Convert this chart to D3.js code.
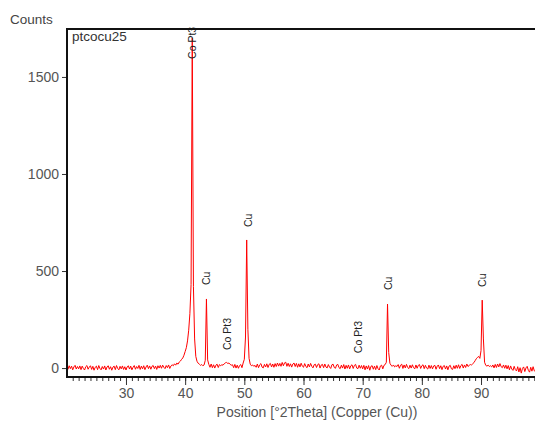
<!DOCTYPE html>
<html><head><meta charset="utf-8">
<script src="https://cdn.jsdelivr.net/npm/d3@7"></script>
<style>
body{margin:0;background:#fff;}
svg{display:block;}
text{font-family:"Liberation Sans",Arial,sans-serif;}
</style></head>
<body><svg id="chart" width="535" height="421"></svg>
<script>
// ---- data ----
const sampleName = "ptcocu25";
const yTitle = "Counts";
const xTitle = "Position [°2Theta] (Copper (Cu))";
const thetaStart = 20.0;
const thetaStep = 0.2;
const counts = [
  9, -6, 12, -3, 10, -9, 6, 14, -5, 8,
  -4, 11, -8, 10, -2, -10, 7, 13, -6, 5,
  12, -7, 9, -11, 4, 10, -8, 13, -2, -9,
  8, -5, 11, -10, 6, 12, -6, 7, -11, 5,
  10, -8, 13, -2, -9, 9, -4, 11, -7, 7,
  -10, 6, 12, -5, 10, -9, 4, 13, -6, 8,
  -2, 14, -7, 10, -4, 12, -8, 6, 15, -3,
  11, -6, 9, 13, -3, 10, -7, 12, 0, 14,
  -1, 15, 4, -3, 13, 2, 16, -2, 11, 17,
  12, 22, 15, 26, 20, 31, 36, 45, 52, 66,
  85, 105, 140, 195, 280, 430, 1700, 420, 150, 60,
  35, 25, 20, 14, 18, 12, 16, 40, 356, 42,
  19, 4, 21, 2, 17, 0, 15, 20, 3, 18,
  12, 17, 15, 22, 27, 29, 24, 26, 19, 15,
  17, 2, 19, 0, 15, -1, 13, 18, 2, 26,
  45, 160, 660, 200, 50, 20, 12, 16, 9, 14,
  4, 21, 2, 17, 23, 5, 1, 19, 6, 22,
  3, 19, 24, 6, 21, 4, 23, 8, 26, 10,
  24, 9, 29, 12, 27, 30, 9, 25, 8, 22,
  5, 21, 26, 8, 24, 4, 22, 6, 25, 10,
  4, 23, 8, 2, 21, 6, 24, 9, 1, 17,
  20, 3, 18, 22, 0, 16, 19, 2, 21, 5,
  1, 18, 5, -2, 17, 20, 3, -1, 16, 19,
  2, -3, 15, 0, 18, -5, 14, -1, 16, -4,
  12, 17, -2, 14, 19, 0, -3, 15, -1, 13,
  -4, 14, -9, 11, -5, 13, -11, 9, 12, -6,
  10, -8, 13, -3, -10, 11, 15, -4, 14, 18,
  30, 330, 80, 25, 14, 9, 16, 6, 12, 8,
  18, -1, 15, 20, -2, 16, 1, 19, 3, -3,
  15, 0, 17, 2, -4, 16, -1, 14, 18, -2,
  12, 17, -3, 14, 0, -5, 15, -2, 13, -4,
  11, 14, -6, 10, 16, -3, 12, -8, 9, 13,
  -5, 11, -9, 10, 14, -4, -7, 12, -3, 15,
  -1, 17, -2, 13, 19, 0, 16, 3, 21, 8,
  14, 18, 16, 22, 28, 38, 48, 55, 60, 50,
  90, 350, 150, 30, 14, 10, 15, 8, 12, 6,
  16, 1, 19, 3, 21, 6, 23, 7, 2, 16,
  -1, 15, -4, 13, -9, 11, -5, -12, 9, -8,
  -15, 7, -20, 2, -26, -2, 6, -18, 1, 9,
  -12, -21, 4, -16, 7, -14, -19, 3, -15, 1
];
const peakLabelTheta = [41.2, 43.6, 47.2, 50.6, 69.2, 74.4, 90.2];
const peakLabelText  = ["Co Pt3", "Cu", "Co Pt3", "Cu", "Co Pt3", "Cu", "Cu"];
const peakLabelCount = [1593, 428, 93, 727, 77, 402, 418];
const yTicks = [0, 500, 1000, 1500];
const xMajorTicks = [30, 40, 50, 60, 70, 80, 90];

// ---- layout ----
const svg = d3.select("#chart");
const plotLeft = 67, plotTop = 29, plotBottom = 377;
const x = d3.scaleLinear().domain([20, 100]).range([66.8, 540.2]);
const y = d3.scaleLinear().domain([-46, 1747]).range([plotBottom, plotTop]);

const pts = counts.map((c, i) => ({t: thetaStart + i * thetaStep, c}));

svg.append("clipPath").attr("id", "clip").append("rect")
  .attr("x", plotLeft).attr("y", plotTop).attr("width", 535 - plotLeft).attr("height", plotBottom - plotTop);

svg.append("path").datum(pts)
  .attr("clip-path", "url(#clip)")
  .attr("fill", "none").attr("stroke", "#ff0000").attr("stroke-width", 1)
  .attr("d", d3.line().x(d => x(d.t)).y(d => y(d.c)));

// peak labels
peakLabelTheta.forEach((t, i) => {
  svg.append("text")
    .attr("transform", `translate(${x(t)},${y(peakLabelCount[i])}) rotate(-90)`)
    .attr("dy", "0.35em")
    .attr("font-size", 10.5).attr("fill", "#222")
    .text(peakLabelText[i]);
});

// x axis (ticks + labels)
const minorTicks = d3.range(21, 100, 1);
const xAxis = d3.axisBottom(x).tickValues(minorTicks).tickSize(4).tickFormat("");
const gx = svg.append("g").attr("transform", `translate(0,${plotBottom})`).call(xAxis);
gx.select(".domain").remove();
gx.selectAll(".tick line").attr("stroke", "#333");
const xMaj = d3.axisBottom(x).tickValues(xMajorTicks).tickSize(8).tickPadding(3).tickFormat(d3.format("d"));
const gx2 = svg.append("g").attr("transform", `translate(0,${plotBottom})`).call(xMaj);
gx2.select(".domain").remove();
gx2.selectAll(".tick line").attr("stroke", "#333");
gx2.selectAll("text").attr("font-size", 14).attr("fill", "#555").attr("font-family", "Liberation Sans, Arial, sans-serif");

// y axis
const yAxis = d3.axisLeft(y).tickValues(yTicks).tickSize(5).tickPadding(3).tickFormat(d3.format("d"));
const gy = svg.append("g").attr("transform", `translate(${plotLeft},0)`).call(yAxis);
gy.select(".domain").remove();
gy.selectAll(".tick line").attr("stroke", "#333");
gy.selectAll("text").attr("font-size", 14).attr("fill", "#555").attr("font-family", "Liberation Sans, Arial, sans-serif");

// frame lines
svg.append("line").attr("x1", plotLeft).attr("x2", 535).attr("y1", plotTop).attr("y2", plotTop)
  .attr("stroke", "#111").attr("stroke-width", 2);
svg.append("line").attr("x1", plotLeft).attr("x2", plotLeft).attr("y1", plotTop - 1).attr("y2", plotBottom + 1)
  .attr("stroke", "#111").attr("stroke-width", 2);
svg.append("line").attr("x1", plotLeft).attr("x2", 535).attr("y1", plotBottom).attr("y2", plotBottom)
  .attr("stroke", "#111").attr("stroke-width", 2);

// titles
svg.append("text").attr("x", 10).attr("y", 24).attr("font-size", 13.5).attr("fill", "#444").text(yTitle);
svg.append("text").attr("x", 72).attr("y", 41).attr("font-size", 13.5).attr("fill", "#333").text(sampleName);
svg.append("text").attr("x", (216 + 418) / 2).attr("y", 417).attr("text-anchor", "middle")
  .attr("font-size", 14).attr("fill", "#555").text(xTitle);
</script>
</body></html>
